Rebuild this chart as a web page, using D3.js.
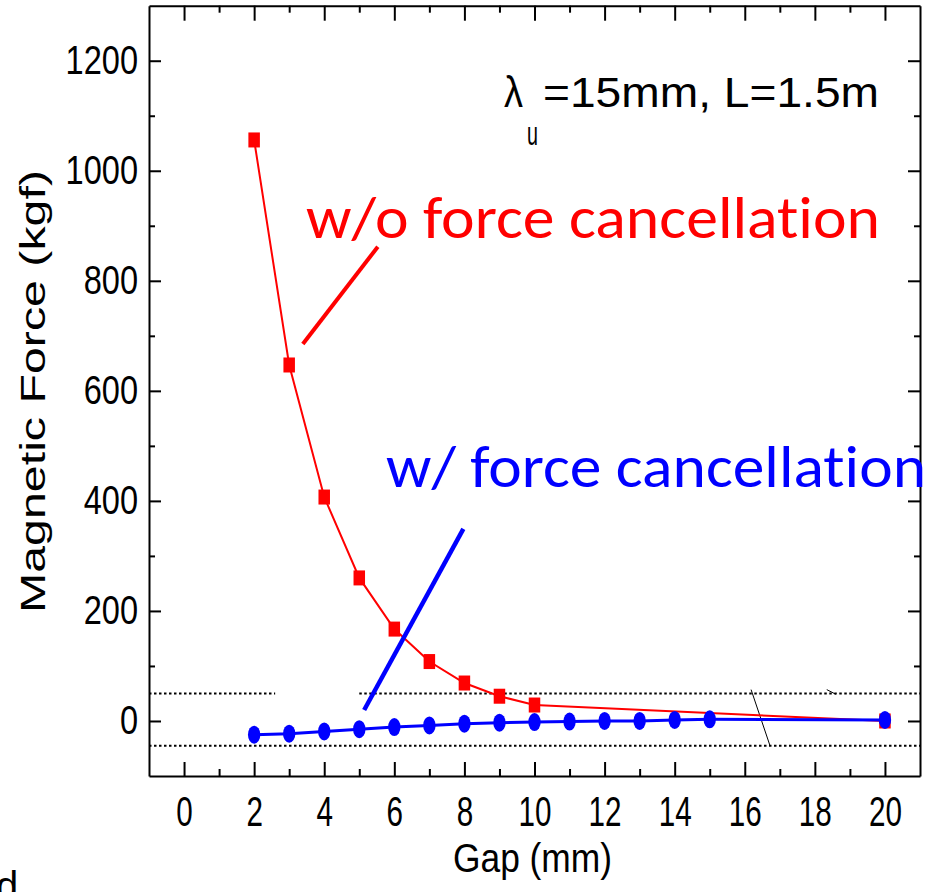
<!DOCTYPE html>
<html lang="en">
<head>
  <meta charset="UTF-8">
  <title>Magnetic Force vs Gap</title>
  <style>
  body {
    margin: 0;
    background: #fff;
  }
  #chart {
    display: block;
    font-family: "Liberation Sans", Arial, sans-serif;
    font-variant-ligatures: none;
  }
  .axis path, .axis line {
    stroke: #000;
    stroke-width: 2;
  }
  .axis text {
    fill: #000;
  }
  </style>
</head>
<body>
<svg id="chart" width="934" height="892"></svg>
<script src="https://cdn.jsdelivr.net/npm/d3@7/dist/d3.min.js"></script>
<script>
// data
const redGap = [2, 3, 4, 5, 6, 7, 8, 9, 10, 20];
const redForce = [1056, 647, 407, 260, 167, 108, 69, 45, 29, 0];
const blueGap = [2, 3, 4, 5, 6, 7, 8, 9, 10, 11, 12, 13, 14, 15, 20];
const blueForce = [-25, -23, -19, -15, -11, -8, -5, -3, -2, -1, 0, 0, 2, 3, 2];

const xMajor = [0, 2, 4, 6, 8, 10, 12, 14, 16, 18, 20];
const xMinor = [1, 3, 5, 7, 9, 11, 13, 15, 17, 19];
const yMajor = [0, 200, 400, 600, 800, 1000, 1200];
const yMinor = [100, 300, 500, 700, 900, 1100];

// tolerance band (dotted lines): [force, gapFrom, gapTo]
const bands = [[50, -1, 2.6], [50, 5.0, 21], [-45, -1, 21]];

const svg = d3.select("#chart");

const x = d3.scaleLinear().domain([-1, 21]).range([149, 920]);
const y = d3.scaleLinear().domain([-100, 1300]).range([776, 5.7]);

// axes: major + minor on all four sides, ticks pointing inwards
function axisPair(axisFn, pos, tr, major, minor, majLen, minLen, labelled) {
  const g = svg.append("g").attr("class", "axis").attr("transform", tr);
  g.call(axisFn(pos).tickValues(major).tickSize(-majLen).tickSizeOuter(0)
    .tickFormat(labelled ? d3.format("d") : () => ""));
  const m = svg.append("g").attr("class", "axis").attr("transform", tr);
  m.call(axisFn(pos).tickValues(minor).tickSize(-minLen).tickSizeOuter(0).tickFormat(() => ""));
  m.select(".domain").remove();
  return g;
}

const xAxis = axisPair(d3.axisBottom, x, "translate(0,776)", xMajor, xMinor, 14, 7, true);
xAxis.selectAll(".tick text")
  .attr("y", 19.5)
  .attr("font-size", 43)
  .attr("textLength", d => String(d).length * 16.5)
  .attr("lengthAdjust", "spacingAndGlyphs");

axisPair(d3.axisTop, x, "translate(0,5.7)", xMajor, xMinor, 15, 7, false);

const yAxis = axisPair(d3.axisLeft, y, "translate(149,0)", yMajor, yMinor, 12, 6, true);
yAxis.selectAll(".tick text")
  .attr("x", -11)
  .attr("font-size", 40)
  .attr("textLength", d => String(d).length * 18.1)
  .attr("lengthAdjust", "spacingAndGlyphs");

axisPair(d3.axisRight, y, "translate(920,0)", yMajor, yMinor, 12, 6, false);

// axis titles
svg.append("text")
  .attr("x", 453).attr("y", 872)
  .attr("font-size", 40)
  .attr("textLength", 159).attr("lengthAdjust", "spacingAndGlyphs")
  .text("Gap (mm)");

svg.append("text")
  .attr("transform", "translate(45,613) rotate(-90)")
  .attr("font-size", 35)
  .attr("textLength", 443).attr("lengthAdjust", "spacingAndGlyphs")
  .text("Magnetic Force (kgf)");

// dotted band
svg.append("g").selectAll("line")
  .data(bands)
  .join("line")
  .attr("x1", d => x(d[1])).attr("x2", d => x(d[2]))
  .attr("y1", d => y(d[0])).attr("y2", d => y(d[0]))
  .attr("stroke", "#000")
  .attr("stroke-width", 2)
  .attr("stroke-dasharray", "2.5,2.5");

// thin black slashes
svg.append("line")
  .attr("x1", x(16.18)).attr("y1", y(57))
  .attr("x2", x(16.72)).attr("y2", y(-45))
  .attr("stroke", "#000").attr("stroke-width", 1);
svg.append("line")
  .attr("x1", x(18.34)).attr("y1", y(57))
  .attr("x2", x(18.6)).attr("y2", y(48.5))
  .attr("stroke", "#000").attr("stroke-width", 1);

// red series: w/o force cancellation
const red = redGap.map((g, i) => [g, redForce[i]]);
const line = d3.line().x(d => x(d[0])).y(d => y(d[1]));

svg.append("path")
  .datum(red)
  .attr("d", line)
  .attr("fill", "none")
  .attr("stroke", "#ff0000")
  .attr("stroke-width", 2);

svg.append("g").selectAll("rect")
  .data(red)
  .join("rect")
  .attr("x", d => x(d[0]) - 5.75)
  .attr("y", d => y(d[1]) - 7.5)
  .attr("width", 11.5)
  .attr("height", 15)
  .attr("fill", "#ff0000");

// blue series: w/ force cancellation
const blue = blueGap.map((g, i) => [g, blueForce[i]]);

svg.append("path")
  .datum(blue)
  .attr("d", line)
  .attr("fill", "none")
  .attr("stroke", "#0000ff")
  .attr("stroke-width", 3);

svg.append("g").selectAll("ellipse")
  .data(blue)
  .join("ellipse")
  .attr("cx", d => x(d[0]))
  .attr("cy", d => y(d[1]))
  .attr("rx", 6.2)
  .attr("ry", 9)
  .attr("fill", "#0000ff");

// pointer lines
svg.append("line")
  .attr("x1", x(3.39)).attr("y1", y(685))
  .attr("x2", x(5.53)).attr("y2", y(862))
  .attr("stroke", "#ff0000").attr("stroke-width", 4);
svg.append("line")
  .attr("x1", x(5.14)).attr("y1", y(20))
  .attr("x2", x(7.97)).attr("y2", y(349))
  .attr("stroke", "#0000ff").attr("stroke-width", 4.5);

// annotations
svg.append("text")
  .attr("x", 306).attr("y", 238)
  .attr("font-family", "Carlito, Lato, sans-serif")
  .attr("font-size", 60)
  .attr("fill", "#ff0000")
  .attr("textLength", 574).attr("lengthAdjust", "spacingAndGlyphs")
  .text("w/o force cancellation");

svg.append("text")
  .attr("x", 386).attr("y", 487)
  .attr("font-family", "Carlito, Lato, sans-serif")
  .attr("font-size", 60)
  .attr("fill", "#0000ff")
  .attr("textLength", 540).attr("lengthAdjust", "spacingAndGlyphs")
  .text("w/ force cancellation");

svg.append("text")
  .attr("x", 504).attr("y", 107)
  .attr("font-size", 44)
  .attr("textLength", 19).attr("lengthAdjust", "spacingAndGlyphs")
  .text("λ");
svg.append("text")
  .attr("x", 527).attr("y", 145)
  .attr("font-size", 34)
  .attr("textLength", 11).attr("lengthAdjust", "spacingAndGlyphs")
  .text("u");
svg.append("text")
  .attr("x", 543).attr("y", 107)
  .attr("font-size", 43)
  .attr("textLength", 336).attr("lengthAdjust", "spacingAndGlyphs")
  .text("=15mm, L=1.5m");

// stray letter cut at the bottom-left corner
svg.append("text")
  .attr("x", -4).attr("y", 900)
  .attr("font-size", 40)
  .text("d");
</script>
</body>
</html>
